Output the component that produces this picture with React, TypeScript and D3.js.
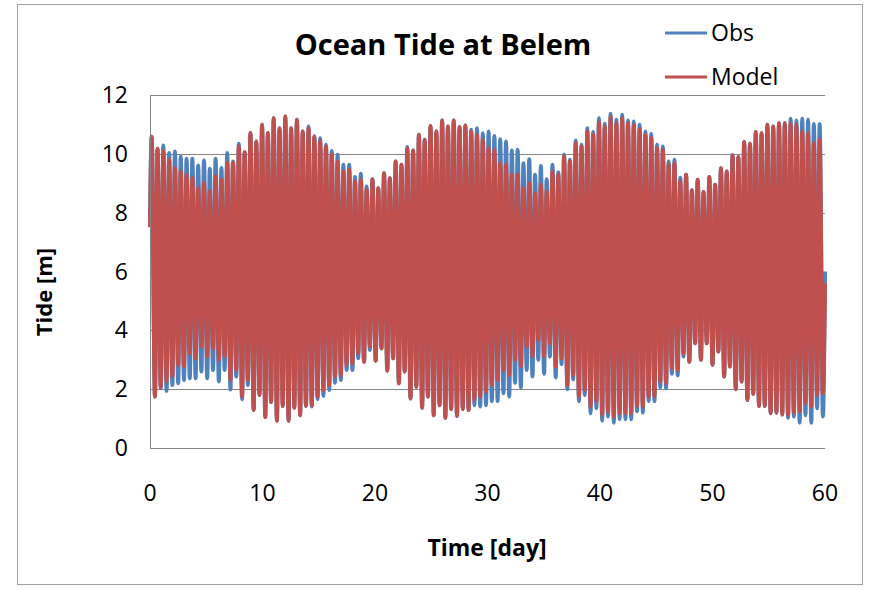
import React, { useEffect, useRef } from "react";
import * as d3 from "d3";

// high / low water per semidiurnal cycle (m)
const obsHigh = [
  10.58, 10.17, 10.28, 10.03, 10.08, 9.9, 9.83, 9.83, 9.6, 9.77, 9.49, 9.83, 9.52, 10.03, 9.74, 10.34, 10.05, 10.71, 10.42, 10.99, 10.71, 11.21, 10.87,
  11.27, 10.87, 11.16, 10.76, 10.93, 10.59, 10.53, 10.31, 10.1, 9.97, 9.63, 9.63, 9.21, 9.32, 8.89, 9.14, 8.83, 9.34, 9.17, 9.74, 9.63, 10.23, 10.11, 10.65,
  10.48, 10.95, 10.76, 11.13, 10.93, 11.13, 10.91, 10.96, 10.82, 10.87, 10.7, 10.76, 10.61, 10.5, 10.42, 10.11, 10.14, 9.68, 9.82, 9.29, 9.59, 9.14, 9.63,
  9.37, 9.97, 9.8, 10.45, 10.31, 10.87, 10.74, 11.21, 11.02, 11.36, 11.16, 11.33, 11.13, 11.1, 10.99, 10.76, 10.67, 10.31, 10.25, 9.74, 9.8, 9.19, 9.29,
  8.76, 9.12, 8.7, 9.21, 8.95, 9.51, 9.4, 9.95, 9.89, 10.4, 10.34, 10.74, 10.7, 10.99, 10.93, 11.04, 11.04, 11.19, 11.13, 11.19, 11.16, 11.01, 11.01,
];
const modelHigh = [
  10.58, 10.17, 10.08, 9.8, 9.52, 9.4, 9.29, 9.18, 8.84, 9.0, 8.72, 9.23, 9.12, 9.69, 9.69, 10.25, 10.05, 10.71, 10.42, 10.99, 10.71, 11.21, 10.87,
  11.27, 10.87, 11.16, 10.76, 10.87, 10.59, 10.42, 10.25, 9.97, 9.74, 9.4, 9.46, 9.06, 9.12, 8.78, 9.14, 8.83, 9.34, 9.17, 9.74, 9.63, 10.17, 10.11, 10.65,
  10.48, 10.95, 10.76, 11.13, 10.93, 11.13, 10.91, 10.96, 10.76, 10.65, 10.48, 10.19, 10.14, 9.68, 9.63, 9.29, 9.29, 8.83, 9.0, 8.66, 8.95, 8.72, 9.4,
  9.29, 9.91, 9.74, 10.36, 10.25, 10.76, 10.65, 11.07, 10.93, 11.25, 11.02, 11.21, 11.04, 10.99, 10.84, 10.65, 10.54, 10.19, 10.14, 9.63, 9.69, 9.06, 9.29,
  8.76, 9.12, 8.7, 9.21, 8.95, 9.51, 9.4, 9.95, 9.89, 10.4, 10.34, 10.74, 10.7, 10.99, 10.93, 11.04, 11.04, 11.04, 10.99, 10.76, 10.7, 10.36, 10.48,
];
const obsLow = [
  1.75, 2.03, 1.94, 2.14, 2.2, 2.31, 2.37, 2.37, 2.6, 2.37, 2.65, 2.26, 2.65, 1.99, 2.43, 1.66, 2.14, 1.29, 1.8, 1.05, 1.56, 0.93, 1.43,
  0.93, 1.37, 1.11, 1.43, 1.41, 1.66, 1.77, 1.97, 2.22, 2.31, 2.65, 2.65, 3.05, 2.93, 3.33, 2.97, 3.39, 2.63, 3.05, 2.2, 2.6, 1.68, 2.08,
  1.37, 1.75, 1.11, 1.45, 1.03, 1.32, 1.09, 1.32, 1.29, 1.45, 1.41, 1.45, 1.59, 1.59, 1.86, 1.75, 2.22, 2.06, 2.65, 2.43, 3.0, 2.52, 3.11,
  2.4, 2.85, 2.0, 2.33, 1.59, 1.8, 1.18, 1.35, 0.93, 1.07, 0.86, 0.98, 0.98, 0.98, 1.24, 1.2, 1.6, 1.59, 2.06, 2.03, 2.52, 2.47, 3.11,
  2.93, 3.56, 3.0, 3.56, 2.83, 3.28, 2.43, 2.77, 2.0, 2.26, 1.63, 1.84, 1.43, 1.43, 1.18, 1.2, 1.14, 1.03, 1.07, 0.86, 1.11, 0.86, 1.35, 1.07,
];
const modelLow = [
  1.75, 2.06, 2.26, 2.43, 2.82, 2.77, 3.22, 3.05, 3.45, 3.11, 3.39, 2.99, 3.11, 2.31, 2.65, 1.75, 2.31, 1.29, 1.8, 1.05, 1.56, 0.93, 1.43,
  0.93, 1.37, 1.11, 1.43, 1.45, 1.75, 1.97, 2.14, 2.43, 2.48, 2.82, 2.88, 3.22, 2.93, 3.45, 2.97, 3.39, 2.63, 3.05, 2.2, 2.6, 1.68, 2.08,
  1.37, 1.75, 1.11, 1.45, 1.03, 1.32, 1.09, 1.32, 1.29, 1.63, 1.75, 1.91, 2.14, 2.31, 2.65, 2.48, 2.99, 2.77, 3.45, 3.11, 3.67, 3.11, 3.56,
  2.77, 3.05, 2.14, 2.48, 1.75, 1.97, 1.41, 1.58, 1.12, 1.24, 1.07, 1.18, 1.18, 1.18, 1.43, 1.41, 1.75, 1.75, 2.26, 2.2, 2.71, 2.65, 3.22,
  2.93, 3.56, 3.0, 3.56, 2.83, 3.28, 2.43, 2.77, 2.0, 2.26, 1.63, 1.84, 1.43, 1.43, 1.18, 1.2, 1.14, 1.12, 1.2, 1.24, 1.52, 1.41, 1.8, 1.86,
];
// level at day 0 and day 60
const obsEnds = [7.8, 6.0];
const modelEnds = [7.5, 5.6];

const firstHigh = 0.15; // day of the first high water
const cycle = 0.5163;   // day between high waters
const ebb = 0.29;       // day from high water to the next low

const xTicks = [0, 10, 20, 30, 40, 50, 60];
const yTicks = [0, 2, 4, 6, 8, 10, 12];
const seriesNames = ["Obs", "Model"];
const seriesColors = ["#4F81BD", "#C0504D"];

const FONT = "'Open Sans', sans-serif";

function toPoints(high: number[], low: number[], ends: number[]) {
  const pts: [number, number][] = [[0, ends[0]]];
  high.forEach((h, i) => {
    const t = firstHigh + i * cycle;
    pts.push([t, h]);
    pts.push([t + ebb, low[i]]);
  });
  pts.push([60, ends[1]]);
  return pts;
}

export default function App() {
  const svgRef = useRef<SVGSVGElement>(null);
  const width = 877;
  const height = 590;

  useEffect(() => {
    const svg = d3.select(svgRef.current);
    svg.selectAll("*").remove();

    const x = d3.scaleLinear().domain([0, 60]).range([150, 825]);
    const y = d3.scaleLinear().domain([0, 12]).range([448, 95]);

    // chart frame
    svg.append("rect")
      .attr("x", 17.5).attr("y", 4.5)
      .attr("width", 845).attr("height", 580)
      .attr("fill", "white").attr("stroke", "#a0a0a0");

    // gridlines
    svg.selectAll("line.grid")
      .data(yTicks.filter((v) => v > 0))
      .join("line")
      .attr("class", "grid")
      .attr("x1", x(0)).attr("x2", x(60))
      .attr("y1", (v) => Math.round(y(v)) + 0.5)
      .attr("y2", (v) => Math.round(y(v)) + 0.5)
      .attr("stroke", "#868686");

    // series
    const line = d3.line<[number, number]>()
      .x((d) => x(d[0]))
      .y((d) => y(d[1]))
      .curve(d3.curveMonotoneX);

    const series = [toPoints(obsHigh, obsLow, obsEnds), toPoints(modelHigh, modelLow, modelEnds)];
    svg.selectAll("path.tide")
      .data(series)
      .join("path")
      .attr("class", "tide")
      .attr("d", (d) => line(d))
      .attr("fill", "none")
      .attr("stroke", (d, i) => seriesColors[i])
      .attr("stroke-width", 4)
      .attr("stroke-linejoin", "round");

    // axes lines
    svg.append("line")
      .attr("x1", 150.5).attr("x2", 150.5).attr("y1", y(12)).attr("y2", 448.5)
      .attr("stroke", "#868686");
    svg.append("line")
      .attr("x1", 150).attr("x2", x(60)).attr("y1", 448.5).attr("y2", 448.5)
      .attr("stroke", "#868686");

    // tick labels
    svg.selectAll("text.ytick")
      .data(yTicks)
      .join("text")
      .attr("class", "ytick")
      .attr("x", 128)
      .attr("y", (v) => y(v))
      .attr("dy", "0.35em")
      .attr("text-anchor", "end")
      .attr("font-family", FONT)
      .attr("font-size", 23)
      .attr("fill", "#000")
      .text((v) => v);

    svg.selectAll("text.xtick")
      .data(xTicks)
      .join("text")
      .attr("class", "xtick")
      .attr("x", (v) => x(v))
      .attr("y", 493)
      .attr("dy", "0.35em")
      .attr("text-anchor", "middle")
      .attr("font-family", FONT)
      .attr("font-size", 23)
      .attr("fill", "#000")
      .text((v) => v);

    // titles
    svg.append("text")
      .attr("x", 443).attr("y", 45)
      .attr("dy", "0.35em")
      .attr("text-anchor", "middle")
      .attr("font-family", FONT).attr("font-weight", "bold").attr("font-size", 29)
      .text("Ocean Tide at Belem");

    svg.append("text")
      .attr("x", 487).attr("y", 548)
      .attr("dy", "0.35em")
      .attr("text-anchor", "middle")
      .attr("font-family", FONT).attr("font-weight", "bold").attr("font-size", 23)
      .text("Time [day]");

    svg.append("text")
      .attr("transform", "translate(44,292) rotate(-90)")
      .attr("dy", "0.35em")
      .attr("text-anchor", "middle")
      .attr("font-family", FONT).attr("font-weight", "bold").attr("font-size", 22)
      .text("Tide [m]");

    // legend
    const legend = svg.selectAll("g.legend")
      .data(seriesNames)
      .join("g")
      .attr("class", "legend")
      .attr("transform", (d, i) => `translate(665,${33 + i * 44})`);
    legend.append("line")
      .attr("x1", 0).attr("x2", 42)
      .attr("stroke", (d, i) => seriesColors[i])
      .attr("stroke-width", 3);
    legend.append("text")
      .attr("x", 46)
      .attr("dy", "0.35em")
      .attr("font-family", FONT).attr("font-size", 23)
      .text((d) => d);
  }, []);

  return (
    <svg ref={svgRef} width={width} height={height}
      style={{ position: "absolute", left: 0, top: 0, background: "white" }}></svg>
  );
}
